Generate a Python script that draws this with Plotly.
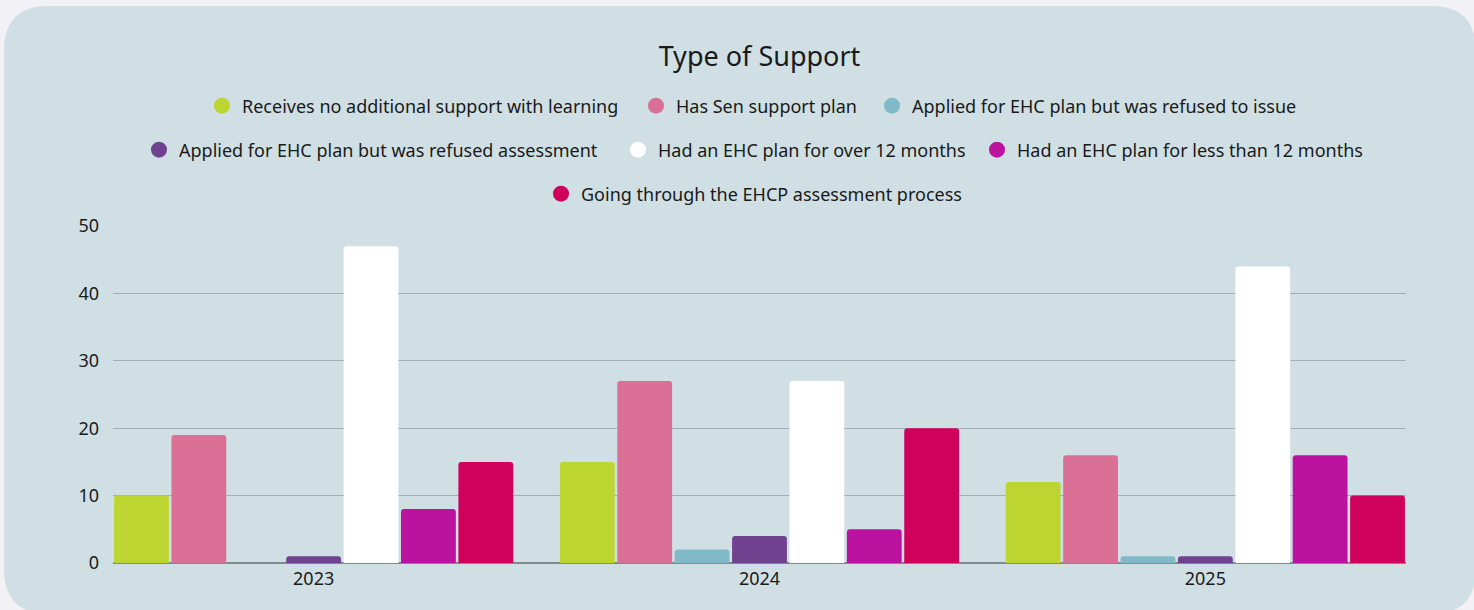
import plotly.graph_objects as go

# ---- data ----
years = ["2023", "2024", "2025"]
series_names = [
    "Receives no additional support with learning",
    "Has Sen support plan",
    "Applied for EHC plan but was refused to issue",
    "Applied for EHC plan but was refused assessment",
    "Had an EHC plan for over 12 months",
    "Had an EHC plan for less than 12 months",
    "Going through the EHCP assessment process",
]
no_support = [10, 15, 12]
sen_plan = [19, 27, 16]
refused_issue = [0, 2, 1]
refused_assessment = [1, 4, 1]
ehc_over_12 = [47, 27, 44]
ehc_under_12 = [8, 5, 16]
going_through = [15, 20, 10]
series_values = [no_support, sen_plan, refused_issue, refused_assessment,
                 ehc_over_12, ehc_under_12, going_through]
y_ticks = [0, 10, 20, 30, 40, 50]

colors = ["#bdd531", "#db7096", "#80bac9", "#6f418f", "#ffffff", "#bb129f", "#d0005d"]

FONT = "Noto Sans"
W, H = 1474, 610
L, R, T, B = 113, 68, 226, 47
PW, PH = W - L - R, H - T - B


def px_x(px):
    return (px - L) / PW


def px_y(py):
    return (H - B - py) / PH


fig = go.Figure()
for name, vals, col in zip(series_names, series_values, colors):
    fig.add_trace(go.Bar(x=years, y=vals, name=name, marker_color=col,
                         marker_line_width=0, showlegend=False))

# legend entries (circle markers), one legend per entry for centred rows
legend_pos = [  # (marker centre px x, row px y)
    (223, 106), (657, 106), (893, 106),
    (160, 150), (639, 150), (998, 150),
    (562, 194),
]
for i, (name, col) in enumerate(zip(series_names, colors)):
    lg = "legend" if i == 0 else f"legend{i+1}"
    fig.add_trace(go.Scatter(x=[None], y=[None], mode="markers", name=name,
                             marker=dict(color=col, size=16, symbol="circle"),
                             legend=lg, showlegend=True))

legend_layouts = {}
for i, (mx, my) in enumerate(legend_pos):
    lg = "legend" if i == 0 else f"legend{i+1}"
    legend_layouts[lg] = dict(
        x=px_x(mx - 21), y=px_y(my), xanchor="left", yanchor="middle",
        orientation="h", bgcolor="rgba(0,0,0,0)",
        font=dict(family=FONT, size=18, color="#1a1a1a"),
        itemclick=False, itemdoubleclick=False,
    )

# rounded card
x0, x1 = px_x(4), px_x(1476)
y0, y1 = px_y(614), px_y(6)
rx, ry = 45 / PW, 45 / PH
card = (f"M {x0+rx},{y1} L {x1-rx},{y1} Q {x1},{y1} {x1},{y1-ry} "
        f"L {x1},{y0+ry} Q {x1},{y0} {x1-rx},{y0} "
        f"L {x0+rx},{y0} Q {x0},{y0} {x0},{y0+ry} "
        f"L {x0},{y1-ry} Q {x0},{y1} {x0+rx},{y1} Z")

fig.update_layout(
    width=W, height=H,
    margin=dict(l=L, r=R, t=T, b=B, autoexpand=False),
    paper_bgcolor="#f2f2f6",
    plot_bgcolor="rgba(0,0,0,0)",
    barmode="group", bargap=0.099, bargroupgap=0.045,
    barcornerradius=3,
    title=dict(text="Type of Support", x=0.5, xref="paper",
               y=1 - 57 / H, yref="container", xanchor="center", yanchor="middle",
               font=dict(family=FONT, size=27, color="#1a1a1a")),
    font=dict(family=FONT, color="#1a1a1a"),
    shapes=[dict(type="path", path=card, xref="paper", yref="paper",
                 fillcolor="#cfdfe4", line=dict(width=0), layer="below")],
    xaxis=dict(type="category", range=[-0.45, 2.45], showgrid=False,
               showline=False, zeroline=False, ticks="",
               tickfont=dict(family=FONT, size=18, color="#1a1a1a"),
               ticklabelstandoff=3),
    yaxis=dict(range=[0, 50], tickvals=y_ticks, showgrid=True,
               gridcolor="#a0afb4", gridwidth=1, zeroline=True,
               zerolinecolor="#7d8a8e", zerolinewidth=1.5, showline=False,
               ticks="", tickfont=dict(family=FONT, size=18, color="#1a1a1a"),
               ticklabelstandoff=13),
    **legend_layouts,
)

fig.write_html(
    "out.html",
    config={"displayModeBar": False},
    post_script="document.body.style.margin='0';document.body.style.background='#f2f2f6';",
)
